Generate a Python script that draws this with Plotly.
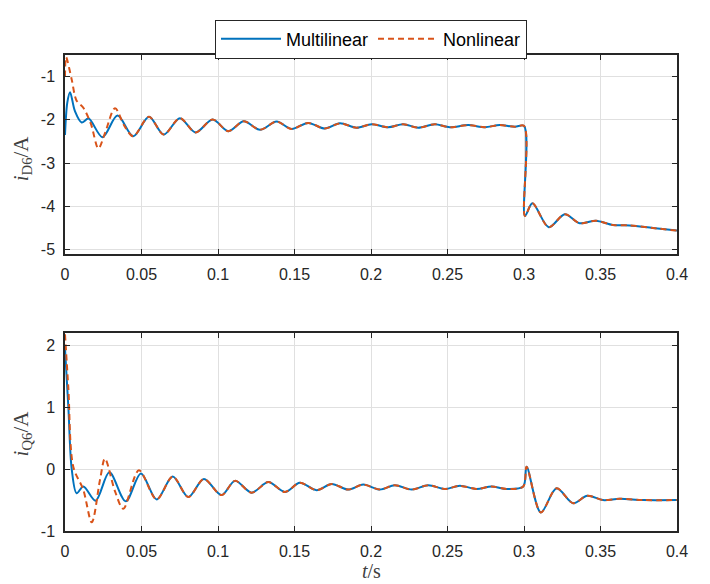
import plotly.graph_objects as go

# top panel: d-axis current (A)
t_d_multi = [0.0, 0.0015, 0.0033, 0.0065, 0.0109, 0.0154, 0.0245, 0.0343, 0.0446,
             0.0549, 0.0645, 0.0751, 0.0853, 0.0965, 0.1067, 0.1169, 0.1274, 0.1383,
             0.1481, 0.1589, 0.1698, 0.1797, 0.1906, 0.2004, 0.2112, 0.2210, 0.2308,
             0.2417, 0.2515, 0.2635, 0.2744, 0.2842, 0.2940, 0.3001, 0.3006, 0.3055,
             0.3162, 0.3267, 0.3364, 0.3469, 0.3582, 0.3691, 0.3843, 0.4]
i_d_multi = [-2.35, -1.6, -1.36, -1.8, -2.06, -1.97, -2.40, -1.90, -2.38,
             -1.93, -2.34, -1.96, -2.29, -1.99, -2.26, -2.03, -2.23, -2.04,
             -2.21, -2.07, -2.20, -2.08, -2.18, -2.10, -2.17, -2.10, -2.18,
             -2.10, -2.17, -2.12, -2.17, -2.12, -2.16, -2.14, -4.22, -3.93,
             -4.48, -4.18, -4.39, -4.33, -4.43, -4.44, -4.50, -4.56]

t_d_nonlin_start = [0.0, 0.0007, 0.0044, 0.0075, 0.0120, 0.0170, 0.0218, 0.0262, 0.0327, 0.0390]
i_d_nonlin_start = [-1.0, -0.55, -1.07, -1.55, -1.72, -2.10, -2.66, -2.30, -1.73, -2.15]

# bottom panel: q-axis current (A)
t_q_multi = [0.0, 0.0022, 0.0044, 0.0076, 0.0120, 0.0200, 0.0290, 0.0397, 0.0496,
             0.0599, 0.0704, 0.0806, 0.0908, 0.1023, 0.1111, 0.1220, 0.1329, 0.1437,
             0.1535, 0.1644, 0.1743, 0.1851, 0.1949, 0.2058, 0.2156, 0.2266, 0.2374,
             0.2483, 0.2581, 0.2690, 0.2788, 0.2886, 0.2995, 0.3017, 0.3110, 0.3213,
             0.3321, 0.3414, 0.3516, 0.3625, 0.3778, 0.4]
i_q_multi = [1.95, 1.0, 0.0, -0.39, -0.28, -0.51, -0.05, -0.52, -0.07,
             -0.49, -0.12, -0.45, -0.16, -0.42, -0.19, -0.38, -0.21, -0.37,
             -0.22, -0.34, -0.24, -0.33, -0.25, -0.33, -0.26, -0.33, -0.26,
             -0.32, -0.27, -0.32, -0.28, -0.32, -0.28, 0.04, -0.70, -0.31,
             -0.55, -0.43, -0.50, -0.48, -0.50, -0.50]

t_q_nonlin_start = [0.0, 0.0022, 0.0054, 0.0119, 0.0175, 0.0229, 0.0261, 0.0327, 0.0381, 0.0483]
i_q_nonlin_start = [2.18, 1.3, 0.04, -0.33, -0.86, -0.17, 0.17, -0.36, -0.64, -0.02]

# after the start-up transient both models coincide
d_merge = 8   # index of t = 0.0446 in t_d_multi
q_merge = 9   # index of t = 0.0599 in t_q_multi
t_d_nonlin = t_d_nonlin_start + t_d_multi[d_merge:]
i_d_nonlin = i_d_nonlin_start + i_d_multi[d_merge:]
t_q_nonlin = t_q_nonlin_start + t_q_multi[q_merge:]
i_q_nonlin = i_q_nonlin_start + i_q_multi[q_merge:]

x_ticks = [0, 0.05, 0.1, 0.15, 0.2, 0.25, 0.3, 0.35, 0.4]
x_labels = ["0", "0.05", "0.1", "0.15", "0.2", "0.25", "0.3", "0.35", "0.4"]
yd_ticks = [-5, -4, -3, -2, -1]
yq_ticks = [-1, 0, 1, 2]

BLUE = "#0072BD"
ORANGE = "#D95319"

fig = go.Figure()
fig.add_trace(go.Scatter(x=t_d_multi, y=i_d_multi, mode="lines", name="Multilinear",
                         line=dict(color=BLUE, width=2, shape="spline", smoothing=0.9),
                         xaxis="x", yaxis="y"))
fig.add_trace(go.Scatter(x=t_d_nonlin, y=i_d_nonlin, mode="lines", name="Nonlinear",
                         line=dict(color=ORANGE, width=2, dash="6px,4px", shape="spline", smoothing=0.9),
                         xaxis="x", yaxis="y"))
fig.add_trace(go.Scatter(x=t_q_multi, y=i_q_multi, mode="lines", showlegend=False,
                         line=dict(color=BLUE, width=2, shape="spline", smoothing=0.9),
                         xaxis="x2", yaxis="y2"))
fig.add_trace(go.Scatter(x=t_q_nonlin, y=i_q_nonlin, mode="lines", showlegend=False,
                         line=dict(color=ORANGE, width=2, dash="6px,4px", shape="spline", smoothing=0.9),
                         xaxis="x2", yaxis="y2"))

axis_style = dict(showline=True, mirror="ticks", linecolor="#262626", linewidth=1.5,
                  ticks="inside", ticklen=5, tickwidth=1.2, tickcolor="#262626",
                  showgrid=True, gridcolor="#e0e0e0", gridwidth=1, zeroline=False,
                  automargin=False, ticklabelstandoff=5,
                  tickfont=dict(family="Liberation Sans, Arial", size=16, color="#262626"))
title_font = dict(family="Liberation Serif, Times New Roman", size=21, color="#404040")

fig.update_layout(
    width=710, height=584,
    margin=dict(l=57, r=41, t=40, b=61),
    paper_bgcolor="white", plot_bgcolor="white",
    xaxis=dict(domain=[0, 1], range=[0, 0.4], tickvals=x_ticks, ticktext=x_labels,
               anchor="y", **axis_style),
    yaxis=dict(domain=[0.582, 1], range=[-5.1, -0.5], tickvals=yd_ticks,
               ticktext=[str(v) for v in yd_ticks], anchor="x", **axis_style),
    xaxis2=dict(domain=[0, 1], range=[0, 0.4], tickvals=x_ticks, ticktext=x_labels,
                anchor="y2", **axis_style),
    yaxis2=dict(domain=[0, 0.416], range=[-1, 2.2], tickvals=yq_ticks,
                ticktext=[str(v) for v in yq_ticks], anchor="x2", **axis_style),
    legend=dict(orientation="h", x=0.5, xanchor="center", y=1.0745, yanchor="top",
                bordercolor="#262626", borderwidth=1, bgcolor="white",
                font=dict(family="Liberation Sans, Arial", size=18, color="black"),
                itemwidth=60),
    annotations=[
        dict(text="<i>i</i><sub>D6</sub>/A", xref="paper", yref="paper",
             x=-0.0703, y=0.783, xanchor="center", yanchor="middle",
             textangle=-90, showarrow=False, font=title_font),
        dict(text="<i>i</i><sub>Q6</sub>/A", xref="paper", yref="paper",
             x=-0.0703, y=0.205, xanchor="center", yanchor="middle",
             textangle=-90, showarrow=False, font=title_font),
        dict(text="<i>t</i>/s", xref="paper", yref="paper",
             x=0.5, y=-0.084, xanchor="center", yanchor="middle",
             showarrow=False, font=dict(family="Liberation Serif, Times New Roman",
                                        size=20, color="#404040")),
    ],
)

fig.write_html("out.html")
